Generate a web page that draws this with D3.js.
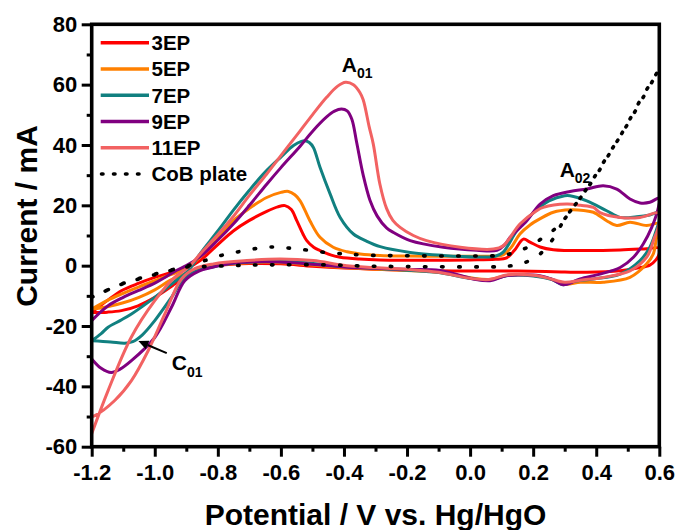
<!DOCTYPE html>
<html><head><meta charset="utf-8">
<script src="https://cdn.jsdelivr.net/npm/d3@7"></script>
<style>
body{margin:0;background:#fff;}
svg{display:block;font-family:"Liberation Sans",Arial,sans-serif;font-weight:bold;}
</style></head><body>
<svg id="chart" width="679" height="530"></svg>
<script>
// ---------- data ----------
const seriesNames = ["3EP", "5EP", "7EP", "9EP", "11EP", "CoB plate"];
const seriesColors = ["#FF0000", "#FF8000", "#118080", "#800080", "#F26262", "#000000"];
const xTickValues = [-1.2, -1.0, -0.8, -0.6, -0.4, -0.2, 0.0, 0.2, 0.4, 0.6];
const xMinorValues = [-1.1, -0.9, -0.7, -0.5, -0.3, -0.1, 0.1, 0.3, 0.5];
const yTickValues = [-60, -40, -20, 0, 20, 40, 60, 80];
const yMinorValues = [-50, -30, -10, 10, 30, 50, 70];

// [potential V, current mA]
const ep3 = [[-1.2,-15.5],[-1.15,-11.5],[-1.106,-8.3],[-1.05,-5.8],[-1.0,-3.9],[-0.95,-2.3],[-0.894,-0.6],[-0.856,1.7],[-0.8,7],[-0.751,11.5],[-0.7,15],[-0.645,18],[-0.61,19.5],[-0.587,19.9],[-0.567,18.6],[-0.55,15],[-0.53,10.5],[-0.518,8.3],[-0.495,6],[-0.476,5],[-0.44,3.5],[-0.412,2.8],[-0.35,2.2],[-0.286,1.9],[-0.2,1.8],[-0.1,1.8],[0.0,1.9],[0.08,2.1],[0.116,2.6],[0.14,5],[0.169,8.8],[0.19,7.8],[0.222,6.2],[0.264,5.3],[0.37,5],[0.476,5.2],[0.56,5.6],[0.6,5.8],
  [0.6,4],[0.59,2],[0.57,0.2],[0.53,-0.8],[0.476,-1.7],[0.37,-2.2],[0.264,-2],[0.15,-1.8],[0.0,-1.8],[-0.2,-1.5],[-0.4,-0.8],[-0.5,-0.2],[-0.6,0.6],[-0.7,0.7],[-0.8,0.1],[-0.85,-0.7],[-0.894,-2.8],[-0.937,-6.1],[-1.0,-10.5],[-1.053,-13.3],[-1.106,-14.9],[-1.15,-15.4],[-1.2,-15.5]];
const ep5 = [[-1.2,-14.4],[-1.15,-11.5],[-1.106,-9.4],[-1.05,-7],[-1.0,-5],[-0.95,-3],[-0.9,-0.8],[-0.856,2.8],[-0.8,9],[-0.751,14.9],[-0.7,19],[-0.645,22.6],[-0.6,24.3],[-0.576,24.6],[-0.556,23.5],[-0.539,21.5],[-0.508,14.9],[-0.476,9.4],[-0.434,6.1],[-0.39,4.6],[-0.349,3.9],[-0.286,3.4],[-0.2,3.2],[-0.1,3.1],[0.0,3.1],[0.08,3.2],[0.105,3.6],[0.13,6],[0.158,10.5],[0.19,13.5],[0.221,15.5],[0.264,17.7],[0.317,18.5],[0.36,18.3],[0.391,17.7],[0.433,14.9],[0.465,13.3],[0.507,14.4],[0.56,13.3],[0.6,14],
  [0.6,11],[0.592,9.4],[0.581,3.9],[0.56,0.6],[0.507,-3.9],[0.422,-5.5],[0.35,-5.5],[0.3,-6.1],[0.25,-4.2],[0.2,-3.3],[0.12,-3.2],[0.06,-4.6],[0.0,-4],[-0.1,-2.2],[-0.2,-1.6],[-0.4,-0.6],[-0.6,1.0],[-0.7,1.0],[-0.8,0.2],[-0.85,-0.8],[-0.9,-2.5],[-0.95,-4.8],[-1.0,-8],[-1.05,-10.5],[-1.1,-12.3],[-1.15,-13.6],[-1.2,-14.4]];
const ep7 = [[-1.2,-24.9],[-1.17,-22.5],[-1.148,-20.4],[-1.11,-18.2],[-1.074,-16],[-1.0,-10.5],[-0.947,-6.1],[-0.894,-1.7],[-0.856,4],[-0.8,11.5],[-0.75,18.5],[-0.7,25],[-0.65,31],[-0.6,36],[-0.56,39.8],[-0.535,41.2],[-0.523,41.4],[-0.51,40.8],[-0.497,39.2],[-0.476,32.6],[-0.444,23.8],[-0.412,16],[-0.37,10.5],[-0.33,8.2],[-0.285,6.3],[-0.19,4.4],[-0.085,3.4],[0.021,2.9],[0.08,3.1],[0.105,4.5],[0.148,11.6],[0.18,15.5],[0.211,18.5],[0.25,21.5],[0.3,23.2],[0.317,23.2],[0.37,21.5],[0.433,18.2],[0.476,16],[0.528,16.2],[0.57,16.8],[0.6,17.7],
  [0.6,15],[0.59,11.6],[0.57,6.1],[0.539,1.7],[0.476,-2.8],[0.391,-4.4],[0.33,-5.2],[0.295,-6.3],[0.26,-4.6],[0.2,-3.4],[0.12,-3.3],[0.06,-4.8],[0.0,-4.2],[-0.1,-2.3],[-0.2,-1.5],[-0.4,-0.3],[-0.55,1.2],[-0.65,1.4],[-0.75,0.8],[-0.82,-0.5],[-0.86,-1.5],[-0.905,-3.9],[-0.947,-10.5],[-1.0,-18.2],[-1.04,-23],[-1.07,-25.2],[-1.095,-25.7],[-1.14,-25.3],[-1.2,-24.9]];
const ep9 = [[-1.2,-18.2],[-1.148,-13.3],[-1.1,-10.5],[-1.053,-8.3],[-1.0,-5.8],[-0.968,-3.9],[-0.93,-1.5],[-0.9,0],[-0.856,3],[-0.8,8.5],[-0.751,13.8],[-0.7,20],[-0.645,27],[-0.6,32.5],[-0.539,39.6],[-0.5,44.5],[-0.455,49.3],[-0.43,51.2],[-0.408,51.9],[-0.39,51.3],[-0.375,48.5],[-0.36,41],[-0.339,30],[-0.317,21.5],[-0.295,16.5],[-0.265,12.5],[-0.243,11],[-0.19,8.3],[-0.085,6.1],[0.021,5.1],[0.085,5.1],[0.11,7],[0.127,9.4],[0.18,14.9],[0.222,20.4],[0.264,23.2],[0.317,24.6],[0.37,25.4],[0.422,26.5],[0.465,25.4],[0.507,22.1],[0.539,20.8],[0.57,21],[0.6,22.4],
  [0.597,19.3],[0.576,12.7],[0.549,7.2],[0.518,2.8],[0.476,-0.6],[0.412,-2.8],[0.349,-4.4],[0.296,-6.3],[0.26,-4.5],[0.221,-3.3],[0.116,-3.3],[0.063,-5],[0.01,-4.4],[-0.095,-1.6],[-0.2,-1.2],[-0.4,-0.4],[-0.55,0.9],[-0.65,1.3],[-0.75,0.9],[-0.82,-0.6],[-0.86,-1.8],[-0.905,-5],[-0.947,-13.8],[-1.0,-23.8],[-1.074,-31.5],[-1.11,-34.3],[-1.138,-35.4],[-1.17,-34],[-1.2,-30.9]];
const ep11 = [[-1.2,-55.7],[-1.148,-41.4],[-1.075,-23.8],[-1.0,-11.6],[-0.937,-3.9],[-0.894,-0.6],[-0.856,3.9],[-0.8,10.3],[-0.751,16.3],[-0.7,23.3],[-0.645,30.4],[-0.6,36.5],[-0.539,44.7],[-0.5,50],[-0.455,55.8],[-0.42,59.5],[-0.395,60.8],[-0.37,60],[-0.35,57.5],[-0.339,55],[-0.32,46],[-0.307,40.3],[-0.286,27],[-0.265,19],[-0.245,15],[-0.222,12.7],[-0.18,10],[-0.138,8.3],[-0.031,6.1],[0.074,5.5],[0.105,6.6],[0.158,13.8],[0.211,18.2],[0.232,19.3],[0.306,20.4],[0.35,20],[0.391,19.3],[0.412,17.6],[0.476,16],[0.539,16],[0.6,17.4],
  [0.595,12],[0.585,9.4],[0.56,2.8],[0.507,-1.7],[0.422,-3.9],[0.35,-4.8],[0.3,-5.5],[0.25,-4.2],[0.2,-3.2],[0.12,-3],[0.06,-4.6],[0.0,-4.2],[-0.1,-2.2],[-0.2,-1.2],[-0.391,0],[-0.497,1.7],[-0.603,2.2],[-0.708,1.7],[-0.814,0.6],[-0.873,-1],[-0.916,-4.5],[-0.968,-16],[-1.021,-28.2],[-1.074,-38.1],[-1.127,-44.7],[-1.19,-49.7],[-1.2,-50]];
const cob = [[-1.2,-10.5],[-1.106,-6.1],[-1.0,-2.8],[-0.894,0],[-0.835,1.9],[-0.782,3.6],[-0.73,4.7],[-0.677,5.7],[-0.624,6.2],[-0.571,5.8],[-0.518,5.2],[-0.444,4.2],[-0.391,3.9],[-0.339,3.5],[-0.2,3.3],[0.0,3.2],[0.08,3.3],[0.13,4.0],[0.18,6.0],[0.23,9.2],[0.28,13.2],[0.327,19.3],[0.38,27.1],[0.433,35.9],[0.486,44.7],[0.539,54.7],[0.597,64.6],
  [0.55,56],[0.5,47],[0.45,38.5],[0.4,30],[0.35,22.5],[0.3,15.5],[0.264,9],[0.222,3.9],[0.185,1.5],[0.148,0.3],[0.1,-0.3],[0.0,-0.4],[-0.2,-0.3],[-0.344,-0.1],[-0.455,0.3],[-0.6,0.3],[-0.73,0.1],[-0.84,-0.3],[-0.888,-0.3],[-1.0,-3.0],[-1.106,-6.2],[-1.2,-10.5]];
const seriesData = [ep3, ep5, ep7, ep9, ep11, cob];

const annotations = [
  {main: "A", sub: "01", v: -0.407, i: 64.2},
  {main: "A", sub: "02", v: 0.284, i: 29.4},
  {main: "C", sub: "01", v: -0.946, i: -34.6}
];
const arrowFrom = [-0.962, -29.0];
const arrowTo = [-1.052, -25.0];

// ---------- layout ----------
const W = 679, H = 530;
const M = {l: 91.7, r: 19.7, t: 24.3, b: 83.3};
const svg = d3.select("#chart");
const x = d3.scaleLinear().domain([-1.2, 0.6]).range([M.l, W - M.r]);
const y = d3.scaleLinear().domain([-60, 80]).range([H - M.b, M.t]);
const fmt = v => d3.format(".1f")(v).replace("\u2212", "-");
const fmtY = v => d3.format("d")(v).replace("\u2212", "-");

svg.append("defs").append("clipPath").attr("id", "clip")
  .append("rect").attr("x", M.l).attr("y", M.t)
  .attr("width", W - M.l - M.r).attr("height", H - M.t - M.b);

const line = d3.line().x(d => x(d[0])).y(d => y(d[1])).curve(d3.curveCatmullRom.alpha(0.5));
const plot = svg.append("g").attr("clip-path", "url(#clip)");
seriesData.forEach((data, k) => {
  const p = plot.append("path").attr("d", line(data))
    .attr("fill", "none").attr("stroke", seriesColors[k])
    .attr("stroke-linejoin", "round");
  if (k === 5) {
    p.attr("stroke-width", 3.6).attr("stroke-dasharray", "1.5,15.5").attr("stroke-linecap", "round");
  } else {
    p.attr("stroke-width", 3);
  }
});

// axes
function styleAxis(g) {
  g.select(".domain").remove();
  g.selectAll(".tick line").attr("stroke", "#000").attr("stroke-width", 3);
  g.selectAll(".tick text").attr("fill", "#000").style("font-size", "22px")
    .style("font-weight", "bold").style("font-family", '"Liberation Sans",Arial,sans-serif');
}
const xb = y(-60);
svg.append("g").attr("transform", `translate(0,${xb})`)
  .call(d3.axisBottom(x).tickValues(xMinorValues).tickSize(5).tickFormat(""))
  .call(styleAxis);
svg.append("g").attr("transform", `translate(0,${xb})`)
  .call(d3.axisBottom(x).tickValues(xTickValues).tickSize(10).tickPadding(7.5).tickFormat(fmt))
  .call(styleAxis);
svg.append("g").attr("transform", `translate(${M.l},0)`)
  .call(d3.axisLeft(y).tickValues(yMinorValues).tickSize(5).tickFormat(""))
  .call(styleAxis);
svg.append("g").attr("transform", `translate(${M.l},0)`)
  .call(d3.axisLeft(y).tickValues(yTickValues).tickSize(10).tickPadding(4.4).tickFormat(fmtY))
  .call(styleAxis);

// frame
svg.append("rect").attr("x", x(-1.2)).attr("y", y(80))
  .attr("width", x(0.6) - x(-1.2)).attr("height", y(-60) - y(80))
  .attr("fill", "none").attr("stroke", "#000").attr("stroke-width", 3.6);

// axis titles
svg.append("text").attr("x", (x(-1.2) + x(0.6)) / 2).attr("y", 525)
  .attr("text-anchor", "middle").style("font-size", "30px").text("Potential / V vs. Hg/HgO");
svg.append("text").attr("transform", "translate(36.5,216) rotate(-90)")
  .attr("text-anchor", "middle").style("font-size", "30px").text("Current / mA");

// legend
const lg = svg.append("g");
seriesNames.forEach((name, k) => {
  const ly = 42.7 + k * 26.25;
  const l = lg.append("line").attr("y1", ly).attr("y2", ly).attr("stroke", seriesColors[k]);
  if (k === 5) {
    l.attr("x1", 101.5).attr("x2", 139).attr("stroke-width", 3.6)
      .attr("stroke-dasharray", "1.5,10.5").attr("stroke-linecap", "round");
  } else {
    l.attr("x1", 100.7).attr("x2", 149).attr("stroke-width", 3.4);
  }
  lg.append("text").attr("x", 151.5).attr("y", ly + 7.4)
    .style("font-size", "20.5px").text(name);
});

// annotations
annotations.forEach(a => {
  const t = svg.append("text").attr("x", x(a.v)).attr("y", y(a.i)).style("font-size", "21px");
  t.append("tspan").text(a.main);
  t.append("tspan").attr("dy", 6.5).style("font-size", "14px").text(a.sub);
});
// arrow
const ax1 = x(arrowFrom[0]), ay1 = y(arrowFrom[1]), ax2 = x(arrowTo[0]), ay2 = y(arrowTo[1]);
const ang = Math.atan2(ay2 - ay1, ax2 - ax1);
const hl = 10, hw = 4.5;
const bx = ax2 - hl * Math.cos(ang), by = ay2 - hl * Math.sin(ang);
svg.append("line").attr("x1", ax1).attr("y1", ay1).attr("x2", bx).attr("y2", by)
  .attr("stroke", "#000").attr("stroke-width", 2);
svg.append("path").attr("d", `M${ax2},${ay2}L${bx - hw * Math.sin(ang)},${by + hw * Math.cos(ang)}L${bx + hw * Math.sin(ang)},${by - hw * Math.cos(ang)}Z`)
  .attr("fill", "#000");
</script>
</body></html>
